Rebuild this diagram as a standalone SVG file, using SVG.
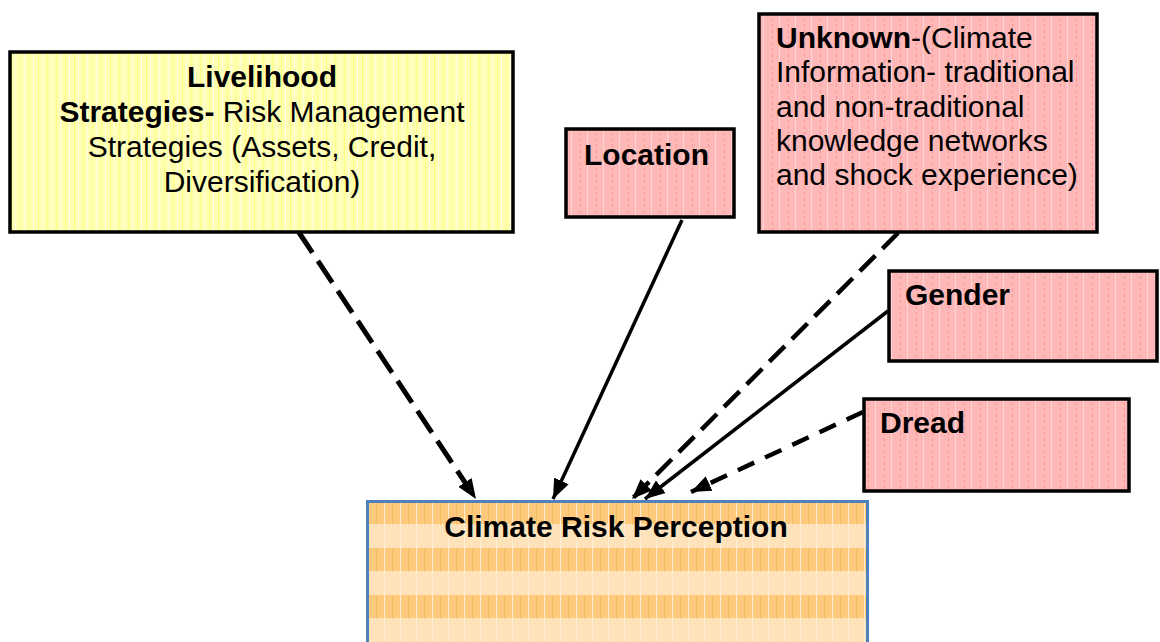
<svg xmlns="http://www.w3.org/2000/svg" width="1160" height="642" viewBox="0 0 1160 642">
<style>
text{font-family:"Liberation Sans",Arial,sans-serif;font-size:30px;fill:#000}
.b{font-weight:bold}
.box{stroke:#000;stroke-width:3.5}
.c{fill:none;stroke:#000}
</style>
<defs>
<pattern id="py" patternUnits="userSpaceOnUse" width="9" height="10">
<rect width="9" height="10" fill="#ffffb4"/>
<rect x="2" width="1" height="10" fill="#ffff80"/>
<rect x="6" width="1" height="10" fill="#ffffe0"/>
</pattern>
<pattern id="pp" patternUnits="userSpaceOnUse" width="16" height="6">
<rect width="16" height="6" fill="#ffb8b8"/>
<rect x="4" width="1" height="3" fill="#ff9494"/>
<rect x="11" width="1" height="6" fill="#ffd4d4"/>
</pattern>
<pattern id="po" patternUnits="userSpaceOnUse" x="0" y="501" width="16" height="47">
<rect width="16" height="23.5" fill="#fdc97c"/>
<rect y="23.5" width="16" height="23.5" fill="#fee2ba"/>
<rect x="8" width="1" height="23.5" fill="#f9bb62"/>
<rect x="0" width="1" height="47" fill="#ffecd2"/>
</pattern>
<marker id="ah" markerUnits="userSpaceOnUse" markerWidth="22" markerHeight="18" refX="20" refY="9" orient="auto">
<path d="M0,1 L20,9 L0,17 Z" fill="#000"/>
</marker>
</defs>
<g id="connectors">
<line class="c" x1="298" y1="231" x2="476" y2="499" stroke-width="5" stroke-dasharray="26 10" marker-end="url(#ah)"/>
<line class="c" x1="682" y1="220" x2="553" y2="499" stroke-width="3.5" marker-end="url(#ah)"/>
<line class="c" x1="898" y1="233" x2="632" y2="499" stroke-width="4.5" stroke-dasharray="22 10" marker-end="url(#ah)"/>
<line class="c" x1="888" y1="311" x2="645" y2="499" stroke-width="3.5" marker-end="url(#ah)"/>
<line class="c" x1="863" y1="412" x2="691" y2="492" stroke-width="4.5" stroke-dasharray="18 12" marker-end="url(#ah)"/>
</g>
<g id="livelihood">
<rect class="box" x="10" y="52" width="503" height="180" fill="url(#py)" stroke-width="4"/>
<text x="262" y="87" text-anchor="middle" class="b">Livelihood</text>
<text x="262" y="122" text-anchor="middle"><tspan class="b">Strategies-</tspan> Risk Management</text>
<text x="262" y="157" text-anchor="middle">Strategies (Assets, Credit,</text>
<text x="262" y="192" text-anchor="middle">Diversification)</text>
</g>
<g id="location">
<rect class="box" x="566" y="129" width="168" height="88" fill="url(#pp)"/>
<text x="584" y="165" class="b">Location</text>
</g>
<g id="unknown">
<rect class="box" x="759" y="14" width="338" height="218" fill="url(#pp)"/>
<text x="776" y="48"><tspan class="b">Unknown</tspan>-(Climate</text>
<text x="776" y="82">Information- traditional</text>
<text x="776" y="117">and non-traditional</text>
<text x="776" y="151">knowledge networks</text>
<text x="776" y="185">and shock experience)</text>
</g>
<g id="gender">
<rect class="box" x="889" y="271" width="268" height="90" fill="url(#pp)"/>
<text x="905" y="305" class="b">Gender</text>
</g>
<g id="dread">
<rect class="box" x="864" y="399" width="265" height="92" fill="url(#pp)"/>
<text x="880" y="433" class="b">Dread</text>
</g>
<g id="perception">
<rect x="367.5" y="501.5" width="500" height="145" fill="url(#po)" stroke="#4f81bd" stroke-width="3"/>
<text x="616" y="537" text-anchor="middle" class="b">Climate Risk Perception</text>
</g>
</svg>
